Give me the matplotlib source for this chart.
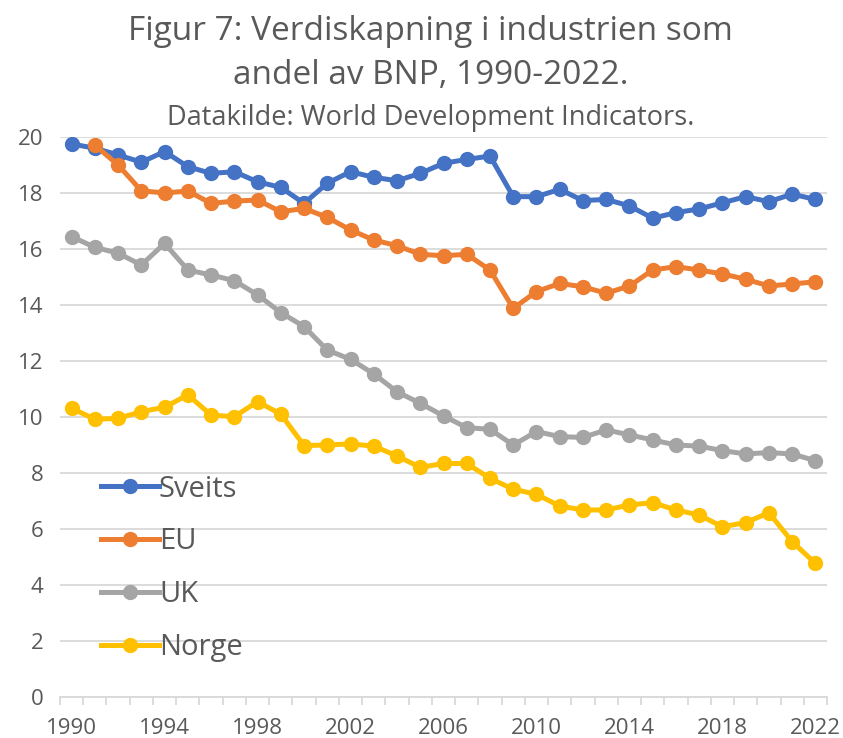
import matplotlib
matplotlib.use("Agg")
import matplotlib.pyplot as plt
import numpy as np

plt.rcParams['font.family'] = ['Open Sans', 'DejaVu Sans']

# data (share of GDP, %)
years = list(range(1990, 2023))
sveits = [19.75, 19.6, 19.36, 19.1, 19.48, 18.94, 18.7, 18.76, 18.4, 18.2,
          17.63, 18.35, 18.76, 18.56, 18.44, 18.7, 19.06, 19.2, 19.32, 17.87,
          17.87, 18.13, 17.73, 17.77, 17.54, 17.1, 17.3, 17.43, 17.65, 17.87,
          17.69, 17.96, 17.77]
eu = [np.nan, 19.71, 19.0, 18.08, 18.0, 18.07, 17.63, 17.71, 17.75, 17.33,
      17.45, 17.13, 16.68, 16.32, 16.12, 15.81, 15.76, 15.81, 15.25, 13.88,
      14.48, 14.77, 14.65, 14.42, 14.68, 15.25, 15.37, 15.25, 15.11, 14.92,
      14.68, 14.75, 14.83]
uk = [16.44, 16.06, 15.85, 15.43, 16.2, 15.25, 15.07, 14.87, 14.36, 13.73,
      13.23, 12.39, 12.06, 11.54, 10.9, 10.49, 10.04, 9.62, 9.56, 9.0,
      9.48, 9.3, 9.27, 9.54, 9.36, 9.18, 9.0, 8.96, 8.8, 8.68,
      8.73, 8.68, 8.44]
norge = [10.31, 9.92, 9.95, 10.19, 10.35, 10.79, 10.07, 10.01, 10.55, 10.1,
         8.98, 9.0, 9.04, 8.96, 8.61, 8.2, 8.34, 8.34, 7.81, 7.42,
         7.24, 6.82, 6.68, 6.68, 6.86, 6.94, 6.68, 6.5, 6.08, 6.23,
         6.58, 5.55, 4.77]

names = ['Sveits', 'EU', 'UK', 'Norge']
colors = ['#4472C4', '#ED7D31', '#A5A5A5', '#FFC000']
txt = '#595959'

fig = plt.figure(figsize=(8.43, 7.38), dpi=100)
ax = fig.add_axes([60/843, 1-697/738, 767/843, 560/738])

x = np.arange(len(years))
for ser, name, c in zip([sveits, eu, uk, norge], names, colors):
    ax.plot(x, ser, color=c, lw=3.6, marker='o', ms=10, label=name,
            solid_joinstyle='round', zorder=3)

ax.set_xlim(-0.5, len(years)-0.5)
ax.set_ylim(0, 20)
ax.set_yticks(range(0, 21, 2))
ax.grid(axis='y', color='#D9D9D9', lw=1.3, zorder=0)
for s in ['top', 'right', 'left']:
    ax.spines[s].set_visible(False)
ax.spines['bottom'].set_color('#D9D9D9')
ax.spines['bottom'].set_linewidth(1.3)
ax.spines['bottom'].set_zorder(1)

ax.set_xticks(x[::4])
ax.set_xticklabels([str(y) for y in years[::4]])
ax.set_xticks(np.arange(-0.5, len(years), 1), minor=True)
ax.tick_params(axis='x', which='major', length=0, pad=15, labelsize=16, labelcolor=txt)
ax.tick_params(axis='x', which='minor', length=6, width=1.3, color='#D9D9D9')
ax.tick_params(axis='y', length=0, pad=12, labelsize=16, labelcolor=txt)

fig.text(0.511, 1-31/738, 'Figur 7: Verdiskapning i industrien som', ha='center', va='center',
         fontsize=24, color=txt)
fig.text(0.511, 1-76/738, 'andel av BNP, 1990-2022.', ha='center', va='center',
         fontsize=24, color=txt)
fig.text(0.511, 1-118/738, 'Datakilde: World Development Indicators.', ha='center', va='center',
         fontsize=19.5, color=txt)

leg = ax.legend(loc='upper left', bbox_to_anchor=(86/843, 1-460/738),
                bbox_transform=fig.transFigure, frameon=False, fontsize=21,
                handlelength=2.0, handletextpad=0.0, labelspacing=0.82, borderpad=0)
for t in leg.get_texts():
    t.set_color(txt)

fig.savefig('out.png', dpi=100)
